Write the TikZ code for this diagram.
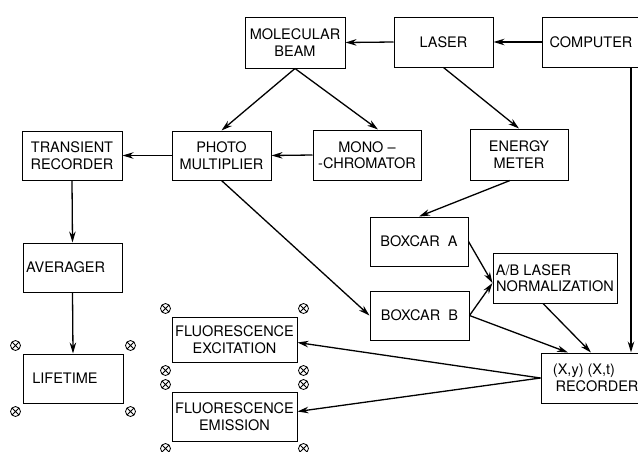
\documentclass[tikz,border=0pt]{standalone}
\usepackage{fontspec}
\setmainfont{TeX Gyre Heros}
\usetikzlibrary{arrows.meta}
\begin{document}
\begin{tikzpicture}
[x=1pt,y=-1pt,
  boxdecorate/.style={shape=rectangle,draw,line width=1pt,align=center,inner sep=1pt,
    font=\fontsize{14.5}{16.5}\selectfont},
  arrowdecorate/.style={-{Stealth[length=11pt,width=6.5pt]},line width=1.3pt},
  markdecorate/.style={shape=circle,draw,line width=0.8pt,minimum size=10pt,inner sep=0pt,
    path picture={\draw[line width=0.8pt] (path picture bounding box.north west) -- (path picture bounding box.south east)
      (path picture bounding box.north east) -- (path picture bounding box.south west);}}]
\useasboundingbox (0,0) rectangle (638,451);
\clip (0,0) rectangle (638,451);
%% boxes
\foreach \nodename/\x/\y/\w/\h/\boxtext in {
  mbeam/295/42.5/100/51/{MOLECULAR\\BEAM}, laser/443.5/42/99/50/{LASER},
  computer/594/42/104/50/{COMPUTER\hspace*{6pt}},
  transient/72/155.5/100/49/{TRANSIENT\\RECORDER}, photo/221.5/155.5/99/49/{PHOTO\\MULTIPLIER},
  mono/367/155/108/50/{MONO --\\-CHROMATOR}, energy/519/154.5/98/51/{ENERGY\\METER},
  averager/72.5/267.5/99/49/{AVERAGER\hspace*{14pt}}, lifetime/73/378.5/100/49/{LIFETIME\hspace*{16pt}},
  boxcarA/419/241.5/98/49/{BOXCAR~ A}, boxcarB/419.5/315.5/99/49/{BOXCAR~ B},
  norm/555/278/124/50/{A/B LASER\hspace*{43pt}\\NORMALIZATION},
  recorder/593/378/104/50/{(X,y) (X,t)\hspace*{18pt}\\\hspace*{8pt}RECORDER},
  flexc/234.5/339.5/125/45/{FLUORESCENCE\\EXCITATION}, flemis/234.5/416.5/125/49/{FLUORESCENCE\\EMISSION}} {
  \node (\nodename) at (\x,\y) [boxdecorate,minimum width=\w pt,minimum height=\h pt] {\boxtext};
}
%% crossed circles at the corners
\foreach \boxname/\dx/\dy in {lifetime/7/8, flexc/6/8, flemis/6/7} {
  \foreach \corner/\anchorname/\sx/\sy in {nw/north west/-1/1, ne/north east/1/1,
    sw/south west/-1/-1, se/south east/1/-1} {
    \node (\boxname\corner) at ([xshift=\sx*\dx pt,yshift=\sy*\dy pt]\boxname.\anchorname) [markdecorate] {};
  }
}
%% arrow ends off the anchors
\coordinate (monoin) at ([xshift=11pt]mono.north);
\coordinate (energyout) at ([xshift=-9pt]energy.south);
\coordinate (normin) at ([yshift=-5pt]norm.west);
\coordinate (normout) at ([xshift=-12pt]norm.south);
\coordinate (compout) at ([xshift=37pt]computer.south);
\coordinate (recin1) at ([xshift=-25pt]recorder.north);
\coordinate (recin2) at ([xshift=-2pt]recorder.north);
\coordinate (recin3) at (compout |- recorder.north);
\coordinate (excin) at ([yshift=-3pt]flexc.east);
\coordinate (emisin) at ([yshift=5pt]flemis.east);
%% edges
\path
\foreach \startnode/\endnode in {computer.west/laser.east, laser.west/mbeam.east,
  laser.south/energy.north, mbeam.south/photo.north, mbeam.south/monoin,
  mono.west/photo.east, photo.west/transient.east, transient.south/averager.north,
  averager.south/lifetime.north, energyout/boxcarA.north, photo.south/boxcarB.west,
  boxcarA.east/normin, boxcarB.east/normin, boxcarB.east/recin1, normout/recin2,
  compout/recin3, recorder.west/excin, recorder.west/emisin} {
  (\startnode) edge[arrowdecorate] (\endnode)
};
\end{tikzpicture}
\end{document}
